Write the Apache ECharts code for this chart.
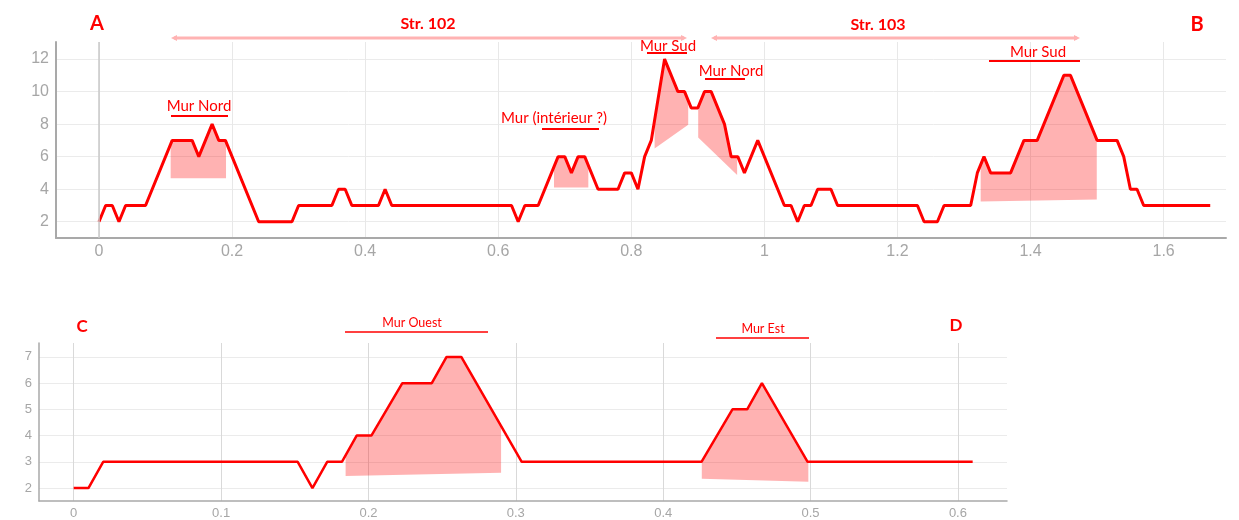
<!DOCTYPE html>
<html>
<head>
<meta charset="utf-8">
<script src="https://cdn.jsdelivr.net/npm/echarts@6.0.0/dist/echarts.min.js"></script>
<style>
html,body{margin:0;padding:0;background:#fff;}
#chart{width:1239px;height:520px;}
</style>
</head>
<body>
<div id="chart"></div>
<script>
// ---------- DATA ----------
// Profile A-B (top)
const topX = [0, 0.01, 0.02, 0.03, 0.04, 0.07, 0.11, 0.14, 0.15, 0.17, 0.18, 0.19, 0.24, 0.29, 0.30, 0.35, 0.36, 0.37, 0.38, 0.42, 0.43, 0.44, 0.62, 0.63, 0.64, 0.66, 0.69, 0.70, 0.71, 0.72, 0.73, 0.75, 0.78, 0.79, 0.80, 0.81, 0.82, 0.83, 0.85, 0.87, 0.88, 0.89, 0.90, 0.91, 0.92, 0.94, 0.95, 0.96, 0.97, 0.99, 1.03, 1.04, 1.05, 1.06, 1.07, 1.08, 1.10, 1.11, 1.23, 1.24, 1.26, 1.27, 1.31, 1.32, 1.33, 1.34, 1.37, 1.39, 1.41, 1.45, 1.46, 1.50, 1.53, 1.54, 1.55, 1.56, 1.57, 1.67];
const topY = [2, 3, 3, 2, 3, 3, 7, 7, 6, 8, 7, 7, 2, 2, 3, 3, 4, 4, 3, 3, 4, 3, 3, 2, 3, 3, 6, 6, 5, 6, 6, 4, 4, 5, 5, 4, 6, 7, 12, 10, 10, 9, 9, 10, 10, 8, 6, 6, 5, 7, 3, 3, 2, 3, 3, 4, 4, 3, 3, 2, 2, 3, 3, 5, 6, 5, 5, 7, 7, 11, 11, 7, 7, 6, 4, 4, 3, 3];
// shaded wall zones: [xStart, xEnd, bottomAtStart, bottomAtEnd]
const topShades = [
  [0.1077, 0.1909, 4.67, 4.67],
  [0.6838, 0.7354, 4.10, 4.10],
  [0.835, 0.8855, 6.5, 7.97],
  [0.9005, 0.959, 7.18, 4.87],
  [1.325, 1.4995, 3.24, 3.36]
];
const topXTicks = [0, 0.2, 0.4, 0.6, 0.8, 1, 1.2, 1.4, 1.6];
const topYTicks = [2, 4, 6, 8, 10, 12];

// Profile C-D (bottom)
const botX = [0, 0.010, 0.020, 0.152, 0.162, 0.172, 0.182, 0.192, 0.202, 0.223, 0.243, 0.253, 0.263, 0.304, 0.426, 0.447, 0.457, 0.467, 0.498, 0.610];
const botY = [2, 2, 3, 3, 2, 3, 3, 4, 4, 6, 6, 7, 7, 3, 3, 5, 5, 6, 3, 3];
const botShades = [
  [0.1845, 0.290, 2.46, 2.58],
  [0.4262, 0.4985, 2.35, 2.24]
];
const botXTicks = [0, 0.1, 0.2, 0.3, 0.4, 0.5, 0.6];
const botYTicks = [2, 3, 4, 5, 6, 7];

// ---------- HELPERS ----------
function zip(xs, ys) { return xs.map((x, i) => [x, ys[i]]); }
function interp(xs, ys, x) {
  for (let i = 0; i < xs.length - 1; i++) {
    if (x >= xs[i] && x <= xs[i + 1]) {
      const t = (x - xs[i]) / (xs[i + 1] - xs[i]);
      return ys[i] + t * (ys[i + 1] - ys[i]);
    }
  }
  return ys[ys.length - 1];
}
function buildPoly(xs, ys, s) {
  const [x0, x1, b0, b1] = s;
  const pts = [[x0, interp(xs, ys, x0)]];
  xs.forEach((x, i) => { if (x > x0 && x < x1) pts.push([x, ys[i]]); });
  pts.push([x1, interp(xs, ys, x1)]);
  pts.push([x1, b1]);
  pts.push([x0, b0]);
  return pts;
}
function shadeSeries(idx, xs, ys, shades) {
  const polys = shades.map(s => buildPoly(xs, ys, s));
  return {
    type: 'custom', xAxisIndex: idx, yAxisIndex: idx, z: 2, silent: true,
    data: shades.map(s => [s[0], s[2]]),
    encode: { x: 0, y: 1 },
    renderItem: function (params, api) {
      return {
        type: 'polygon',
        shape: { points: polys[params.dataIndex].map(p => api.coord(p)) },
        style: { fill: 'rgba(255,0,0,0.3)' }
      };
    }
  };
}

const tickFont = 'Liberation Sans';
const red = '#ff0000';
const annoFont = 'Lato';

function axisX(idx, min, max, ticks, fontSize, lineW, splitColor) {
  return {
    type: 'value', gridIndex: idx, min: min, max: max,
    axisLine: { show: true, onZero: false, lineStyle: { color: '#a9a9a9', width: lineW } },
    axisTick: { show: false, customValues: ticks },
    axisLabel: { customValues: ticks, color: '#a6a6a6', fontSize: fontSize, fontFamily: tickFont, margin: 6 },
    splitLine: { show: true, lineStyle: { color: splitColor, width: 1 } }
  };
}
function axisY(idx, min, max, ticks, fontSize, lineW) {
  return {
    type: 'value', gridIndex: idx, min: min, max: max,
    axisLine: { show: true, onZero: false, lineStyle: { color: '#a9a9a9', width: lineW } },
    axisTick: { show: false, customValues: ticks },
    axisLabel: { customValues: ticks, color: '#a6a6a6', fontSize: fontSize, fontFamily: tickFont, margin: 7 },
    splitLine: { show: true, lineStyle: { color: '#ebebeb', width: 1 } }
  };
}

function txt(x, y, s, size, bold) {
  return { type: 'text', x: x, y: y, z: 20, style: {
    text: s, fill: red, align: 'center', verticalAlign: 'middle',
    font: (bold ? 'bold ' : '') + size + 'px ' + annoFont } };
}
function uline(x1, x2, y, w) {
  return { type: 'line', z: 20, shape: { x1: x1, y1: y, x2: x2, y2: y }, style: { stroke: red, lineWidth: w } };
}
function arrowLine(x1, x2, y) {
  const c = '#ffb3b3';
  return [
    { type: 'line', z: 19, shape: { x1: x1, y1: y, x2: x2, y2: y }, style: { stroke: c, lineWidth: 3 } },
    { type: 'polygon', z: 19, shape: { points: [[x1 - 3, y], [x1 + 3, y - 3], [x1 + 3, y + 3]] }, style: { fill: c } },
    { type: 'polygon', z: 19, shape: { points: [[x2 + 3, y], [x2 - 3, y - 3], [x2 - 3, y + 3]] }, style: { fill: c } }
  ];
}

const chart = echarts.init(document.getElementById('chart'), null, { renderer: 'canvas' });
chart.setOption({
  animation: false,
  backgroundColor: '#ffffff',
  grid: [
    { left: 56, top: 42, width: 1170, height: 196 },
    { left: 39, top: 343, width: 968, height: 158 }
  ],
  xAxis: [
    axisX(0, -0.0646, 1.6937, topXTicks, 16, 2, '#e8e8e8'),
    axisX(1, -0.02355, 0.6333, botXTicks, 13, 1.5, '#d9d9d9')
  ],
  yAxis: [
    axisY(0, 1.0, 13.05, topYTicks, 16, 2),
    axisY(1, 1.506, 7.53, botYTicks, 13, 1.5)
  ],
  series: [
    shadeSeries(0, topX, topY, topShades),
    shadeSeries(1, botX, botY, botShades),
    {
      type: 'line', xAxisIndex: 0, yAxisIndex: 0, z: 3, silent: true,
      data: zip(topX, topY), showSymbol: false, symbol: 'none',
      lineStyle: { color: red, width: 3 },
      markLine: {
        silent: true, symbol: 'none', label: { show: false },
        lineStyle: { color: '#c8c8c8', width: 1.5, type: 'solid' },
        data: [{ xAxis: 0 }]
      }
    },
    {
      type: 'line', xAxisIndex: 1, yAxisIndex: 1, z: 3, silent: true,
      data: zip(botX, botY), showSymbol: false, symbol: 'none',
      lineStyle: { color: red, width: 2.5 }
    }
  ],
  graphic: [
    txt(97, 24, 'A', 20, true),
    txt(1197, 25, 'B', 20, true),
    txt(428, 24, 'Str. 102', 16, true),
    txt(878, 25, 'Str. 103', 16, true),
    ...arrowLine(174, 684, 38),
    ...arrowLine(714, 1077, 38),
    txt(199, 106, 'Mur Nord', 15, false), uline(171, 228, 116, 2),
    txt(554, 118, 'Mur (intérieur ?)', 15, false), uline(542, 599, 129, 2),
    txt(668, 46, 'Mur Sud', 15, false), uline(647, 687, 53, 2),
    txt(731, 71, 'Mur Nord', 15, false), uline(705, 745, 79, 2),
    txt(1038, 52, 'Mur Sud', 15, false), uline(989, 1080, 61, 2),
    txt(82, 327, 'C', 17, true),
    txt(956, 326, 'D', 17, true),
    txt(412, 323, 'Mur Ouest', 12.5, false), uline(345, 488, 332, 1.5),
    txt(763, 329, 'Mur Est', 12.5, false), uline(716, 809, 338, 1.5)
  ]
});
</script>
</body>
</html>
